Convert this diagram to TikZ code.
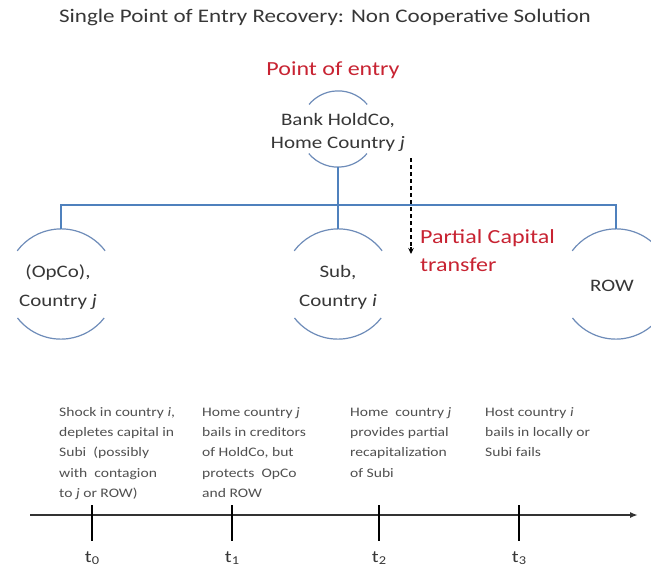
\documentclass[tikz,border=0pt]{standalone}
\usepackage{fontspec}
\setmainfont{Carlito}[FakeStretch=1.2]
\usetikzlibrary{arrows.meta}
\definecolor{lineblue}{RGB}{79,129,189}
\definecolor{arcblue}{RGB}{110,140,185}
\definecolor{entryred}{RGB}{200,35,50}
\definecolor{txtgray}{RGB}{55,55,55}
\definecolor{evgray}{RGB}{80,80,80}
\begin{document}
\begin{tikzpicture}[x=1pt,y=-1pt,
  circ/.style={circle, minimum size=#1, inner sep=0pt},
  ctext/.style={inner sep=0pt, align=center, text=txtgray,
    font=\fontsize{17.5}{29}\selectfont},
  arcline/.style={draw=arcblue, line width=1.2pt},
  bus/.style={draw=lineblue, line width=1.5pt},
  redtext/.style={text=entryred, font=\fontsize{20}{28}\selectfont, inner sep=0pt},
  event/.style={anchor=north west, align=left, inner sep=0pt, text=evgray,
    font=\fontsize{13}{20.3}\selectfont},
  tlabel/.style={inner sep=0pt, text=txtgray, font=\fontsize{17}{20}\selectfont},
  tick/.style={draw=black, line width=1.4pt}]
\clip (0,0) rectangle (651,571);
\fill[white] (0,0) rectangle (651,571);

% title
\node[inner sep=0pt, text=txtgray, font=\fontsize{19.2}{22}\selectfont] (title) at (325,17)
  {Single Point of Entry Recovery: Non Cooperative Solution};
\node[redtext] (entry) at (333,70) {Point of entry};

% circles (shapes only)
\node[circ=76pt] (hold) at (338,129) {};
\node[circ=110pt] (opco) at (61,284) {};
\node[circ=110pt] (sub) at (338,284) {};
\node[circ=110pt] (row) at (616,284) {};

% circle texts
\node[ctext, font=\fontsize{17.5}{23}\selectfont] (holdtxt) at (338,132) {Bank HoldCo,\\Home Country \textit{j}};
\node[ctext] (opcotxt) at (58,287) {(OpCo),\\Country \textit{j}};
\node[ctext] (subtxt) at (338,287) {Sub,\\Country \textit{i}};
\node[ctext] (rowtxt) at (612,286) {ROW};

\draw[arcline] (hold.40) arc[start angle=40, end angle=140, radius=38pt];
\draw[arcline] (hold.220) arc[start angle=220, end angle=320, radius=38pt];
\foreach \n in {opco,sub,row}{
  \draw[arcline] (\n.37) arc[start angle=37, end angle=143, radius=55pt];
  \draw[arcline] (\n.218) arc[start angle=218, end angle=322, radius=55pt];
}

% tree connectors
\coordinate (busy) at (338,205);
\draw[bus] (opco.north) -- (opco.north |- busy) -- (row.north |- busy) -- (row.north);
\draw[bus] (hold.south) -- (sub.north);

% dashed capital transfer
\coordinate (da1) at (411,158);
\coordinate (dam) at (411,247);
\coordinate (da2) at (411,254);
\draw[black, line width=1.1pt, dash pattern=on 4pt off 3pt] (da1) -- (dam);
\draw[black, line width=1.1pt, -{Stealth[length=6pt,width=5.5pt]}] (dam) -- (da2);
\node[redtext, anchor=west, align=left] (pct) at (420,251) {Partial Capital\\transfer};

% timeline
\coordinate (ax0) at (30,515);
\coordinate (ax1) at (638,515);
\draw[draw=black!80, line width=1.8pt, -{Latex[length=8pt,width=6pt]}] (ax0) -- (ax1);

\foreach \x/\i/\s in {92/0/0,232/1/1,379/2/2,519/3/3}{
  \coordinate (tk\i a) at (\x,505);
  \coordinate (tk\i b) at (\x,541);
  \draw[tick] (tk\i a) -- (tk\i b);
  \node[tlabel] (lab\i) at (\x,558) {t\raisebox{-0.25ex}{\fontsize{12}{12}\selectfont \s}};
}

\node[event] (ev0) at (59,407) {Shock in country \textit{i},\\depletes capital in\\Subi\ \ (possibly\\with\ \ contagion\\to \textit{j} or ROW)};
\node[event] (ev1) at (202,407) {Home country \textit{j}\\bails in creditors\\of HoldCo, but\\protects\ \ OpCo\\and ROW};
\node[event] (ev2) at (350,407) {Home\ \ country \textit{j}\\provides partial\\recapitalization\\of Subi};
\node[event] (ev3) at (485,407) {Host country \textit{i}\\bails in locally or\\Subi fails};
\end{tikzpicture}
\end{document}
